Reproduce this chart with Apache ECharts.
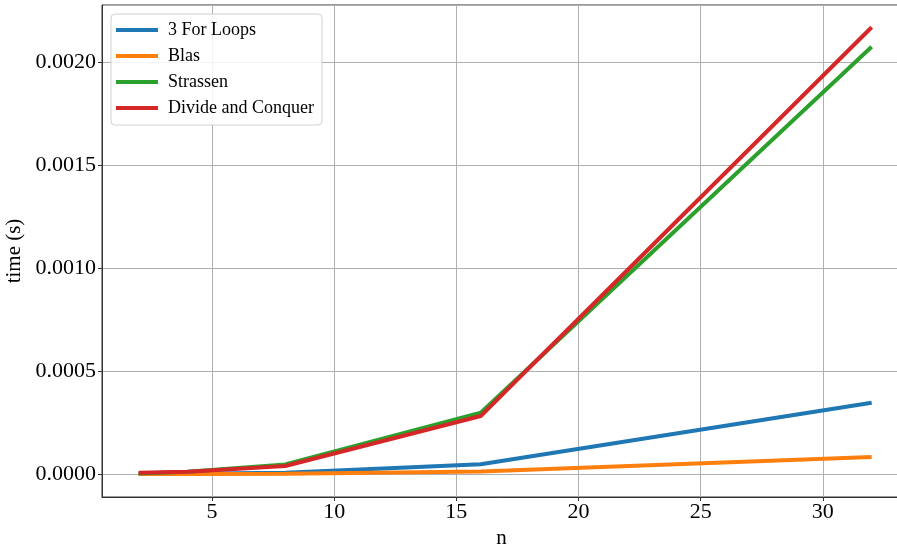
<!DOCTYPE html>
<html>
<head>
<meta charset="utf-8">
<script src="https://cdn.jsdelivr.net/npm/echarts@6/dist/echarts.min.js"></script>
<style>
  html, body { margin: 0; padding: 0; background: #fff; }
  #chart { width: 897px; height: 546px; }
</style>
</head>
<body>
<div id="chart"></div>
<script>
// matrix sizes n
const sizes = [2, 4, 8, 16, 32]
// time (s) per method
const forLoops = [0.0000002, 0.0000008, 0.000006, 0.000047, 0.000346]
const blas = [0.0000001, 0.0000003, 0.0000015, 0.000012, 0.000083]
const strassen = [0.000002, 0.000011, 0.000046, 0.000298, 0.002077]
const divideConquer = [0.000006, 0.000011, 0.000039, 0.000282, 0.002172]

const seriesNames = ['3 For Loops', 'Blas', 'Strassen', 'Divide and Conquer']
const colors = ['#1f77b4', '#ff7f0e', '#2ca02c', '#d62728']
const font = "'Liberation Serif', 'DejaVu Serif', serif"

const pairs = vals => sizes.map((n, i) => [n, vals[i]])

const myChart = echarts.init(document.getElementById('chart'))
const options = {
  animation: false,
  color: colors,
  textStyle: { fontFamily: font },
  grid: {
    left: 102,
    right: -4,
    top: 5,
    bottom: 49,
    containLabel: false,
    outerBoundsMode: 'none',
    show: true,
    borderColor: '#333',
    borderWidth: 1
  },
  legend: {
    orient: 'vertical',
    left: 111,
    top: 14,
    padding: [3, 8, 4, 5],
    itemGap: 0,
    itemWidth: 42,
    itemHeight: 4,
    icon: 'rect',
    backgroundColor: 'rgba(255,255,255,0.85)',
    borderColor: '#d0d0d0',
    borderWidth: 1,
    borderRadius: 4,
    textStyle: { fontFamily: font, fontSize: 18, color: '#000', lineHeight: 26, padding: [0, 0, 0, 5] },
    data: seriesNames
  },
  xAxis: {
    type: 'value',
    name: 'n',
    nameLocation: 'middle',
    nameGap: 29,
    nameTextStyle: { fontFamily: font, fontSize: 21, color: '#000' },
    min: 0.5,
    max: 33.2,
    splitNumber: 6,
    axisLine: { show: true, onZero: false, lineStyle: { color: '#333', width: 1 } },
    axisTick: { show: true, length: 4, lineStyle: { color: '#333' } },
    axisLabel: { fontFamily: font, fontSize: 22, color: '#000', margin: 4, showMinLabel: false, showMaxLabel: false },
    splitLine: { show: true, lineStyle: { color: '#b0b0b0', width: 1 } }
  },
  yAxis: {
    type: 'value',
    name: 'time (s)',
    nameLocation: 'middle',
    nameGap: 69,
    nameTextStyle: { fontFamily: font, fontSize: 21, color: '#000' },
    min: -0.000112,
    max: 0.00228,
    splitNumber: 5,
    axisLine: { show: true, onZero: false, lineStyle: { color: '#333', width: 1 } },
    axisTick: { show: true, length: 4, lineStyle: { color: '#333' } },
    axisLabel: {
      fontFamily: font, fontSize: 22, color: '#000', margin: 6,
      showMinLabel: false, showMaxLabel: false,
      formatter: v => v.toFixed(4)
    },
    splitLine: { show: true, lineStyle: { color: '#b0b0b0', width: 1 } }
  },
  series: [forLoops, blas, strassen, divideConquer].map((vals, i) => ({
    name: seriesNames[i],
    type: 'line',
    data: pairs(vals),
    symbol: 'none',
    lineStyle: { color: colors[i], width: 4 },
    itemStyle: { color: colors[i] },
    z: 2 + i
  }))
}
myChart.setOption(options)
</script>
</body>
</html>
